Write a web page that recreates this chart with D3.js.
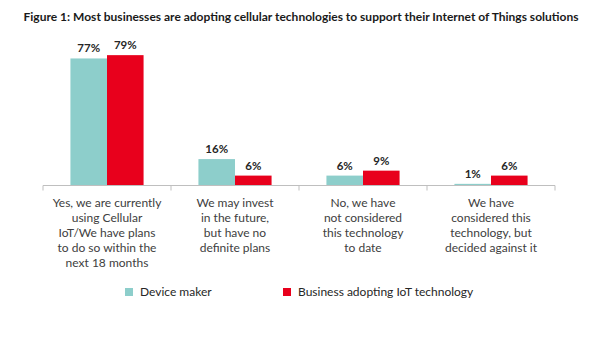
<!DOCTYPE html>
<html>
<head>
<meta charset="utf-8">
<script src="https://cdn.jsdelivr.net/npm/d3@7"></script>
<style>
  body { margin: 0; background: #fff; }
  svg { font-family: Lato, "Open Sans", sans-serif; }
</style>
</head>
<body>
<div id="chart"></div>
<script>
// survey answers, one label line per array entry
var categories = ["yes", "maybe", "no", "against"];
var categoryLines = [
  ["Yes, we are currently", "using Cellular", "IoT/We have plans", "to do so within the", "next 18 months"],
  ["We may invest", "in the future,", "but have no", "definite plans"],
  ["No, we have", "not considered", "this technology", "to date"],
  ["We have", "considered this", "technology, but", "decided against it"]
];
var seriesNames = ["Device maker", "Business adopting IoT technology"];
var deviceMaker = [77, 16, 6, 1];
var businessIoT = [79, 6, 9, 6];
var colors = ["#8dcecb", "#e8001c"];

var width = 601, height = 337;

var svg = d3.select("#chart").append("svg")
    .attr("width", width)
    .attr("height", height);

svg.append("text")
    .attr("x", 301)
    .attr("y", 21)
    .attr("text-anchor", "middle")
    .style("font-size", "12px")
    .style("font-weight", "bold")
    .style("fill", "#1a1a1a")
    .text("Figure 1: Most businesses are adopting cellular technologies to support their Internet of Things solutions");

var x0 = d3.scaleBand()
    .domain(categories)
    .range([43, 555])
    .paddingInner(0);

var x1 = d3.scaleBand()
    .domain(seriesNames)
    .range([0, x0.bandwidth()])
    .paddingInner(0)
    .paddingOuter(0.75);

var y = d3.scaleLinear()
    .domain([0, 100])
    .range([185.5, 20.5]);

var rows = categories.map(function (c, i) {
    return { cat: c, values: [deviceMaker[i], businessIoT[i]] };
});

var groups = svg.selectAll("g.group")
    .data(rows)
    .enter().append("g")
    .attr("class", "group")
    .attr("transform", function (d) { return "translate(" + x0(d.cat) + ",0)"; });

groups.selectAll("rect")
    .data(function (d) { return d.values.map(function (v, j) { return { name: seriesNames[j], value: v, j: j }; }); })
    .enter().append("rect")
    .attr("x", function (d) { return x1(d.name); })
    .attr("y", function (d) { return y(d.value); })
    .attr("width", x1.bandwidth())
    .attr("height", function (d) { return y(0) - y(d.value); })
    .style("fill", function (d) { return colors[d.j]; });

groups.selectAll("text.val")
    .data(function (d) { return d.values.map(function (v, j) { return { name: seriesNames[j], value: v }; }); })
    .enter().append("text")
    .attr("class", "val")
    .attr("x", function (d) { return x1(d.name) + x1.bandwidth() / 2; })
    .attr("y", function (d) { return y(d.value) - 6; })
    .attr("text-anchor", "middle")
    .style("font-size", "11.5px")
    .style("font-weight", "bold")
    .style("fill", "#262626")
    .text(function (d) { return d.value + "%"; });

// category axis with ticks at the group boundaries
var axisY = y(0);
svg.append("line")
    .attr("x1", 43).attr("x2", 555)
    .attr("y1", axisY).attr("y2", axisY)
    .style("stroke", "#bfbfbf");

var bounds = categories.map(function (c) { return x0(c); }).concat([x0.range()[1]]);
svg.selectAll("line.tick")
    .data(bounds)
    .enter().append("line")
    .attr("class", "tick")
    .attr("x1", function (d) { return d; })
    .attr("x2", function (d) { return d; })
    .attr("y1", axisY)
    .attr("y2", axisY + 5)
    .style("stroke", "#bfbfbf");

var labels = svg.selectAll("text.cat")
    .data(categories)
    .enter().append("text")
    .attr("class", "cat")
    .attr("text-anchor", "middle")
    .style("font-size", "12px")
    .style("fill", "#404040");

labels.each(function (c, i) {
    var cx = x0(c) + x0.bandwidth() / 2;
    d3.select(this).selectAll("tspan")
        .data(categoryLines[i])
        .enter().append("tspan")
        .attr("x", cx)
        .attr("y", function (d, k) { return 207 + k * 15; })
        .text(function (d) { return d; });
});

// legend
var legendX = [125, 283];
var legend = svg.selectAll("g.legend")
    .data(seriesNames)
    .enter().append("g")
    .attr("class", "legend")
    .attr("transform", function (d, i) { return "translate(" + legendX[i] + ",288)"; });

legend.append("rect")
    .attr("width", 8)
    .attr("height", 8)
    .style("fill", function (d, i) { return colors[i]; });

legend.append("text")
    .attr("x", 15)
    .attr("y", 8)
    .style("font-size", "12px")
    .style("fill", "#262626")
    .text(function (d) { return d; });
</script>
</body>
</html>
